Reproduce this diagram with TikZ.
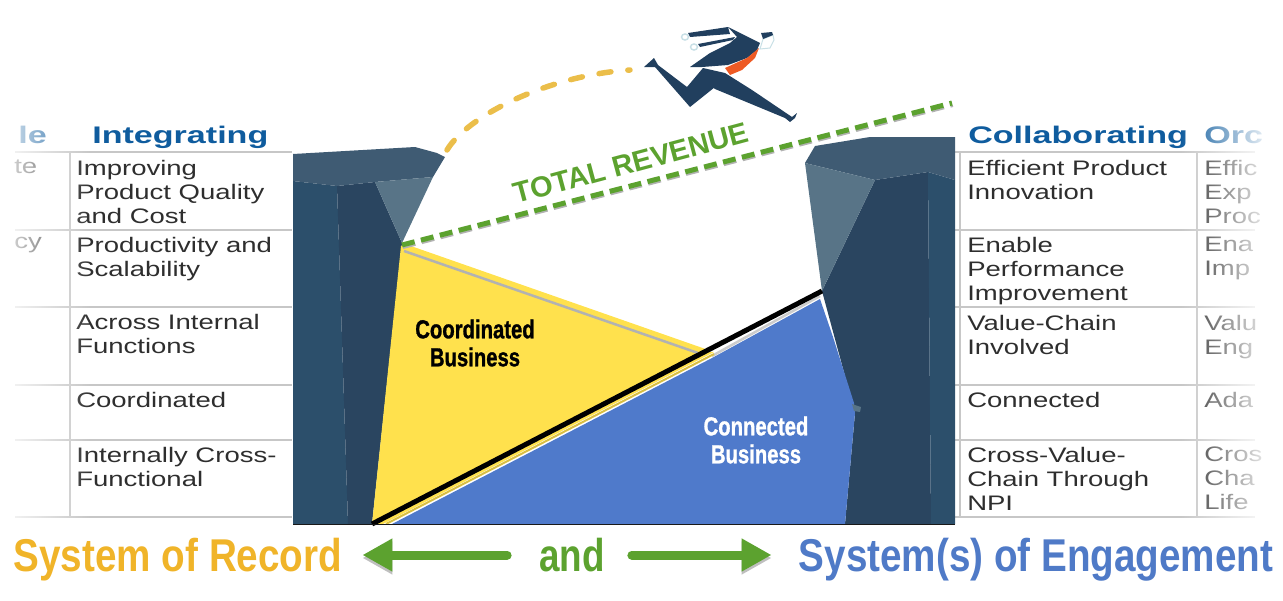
\documentclass[tikz,border=0pt]{standalone}
\usepackage{fontspec}
\setmainfont{Liberation Sans}
\newfontfamily\bizfont[FakeBold=1.2]{Liberation Sans Bold}
\usetikzlibrary{arrows.meta,fadings}
\definecolor{rockslab}{HTML}{3F5B73}
\definecolor{rocklight}{HTML}{587487}
\definecolor{rockfront}{HTML}{2A4560}
\definecolor{rockside}{HTML}{2C4F6B}
\definecolor{busyellow}{HTML}{FFE14D}
\definecolor{busblue}{HTML}{4F7ACB}
\definecolor{revgreen}{HTML}{5CA22F}
\definecolor{jumpgold}{HTML}{EBBE4A}
\definecolor{recgold}{HTML}{F0B429}
\definecolor{enggblue}{HTML}{4F7AC7}
\definecolor{hdrblue}{HTML}{0F5C9E}
\definecolor{suit}{HTML}{213F5E}
\definecolor{tie}{HTML}{EE5A24}
\definecolor{palecuff}{HTML}{C9E0E6}

\begin{document}
\begin{tikzpicture}[x=1pt,y=-1pt,
cell/.style={anchor=north west,inner sep=0pt,align=left,xscale=1.31,text=black!82,font=\fontsize{21}{24}\selectfont},
hdr/.style={anchor=base west,inner sep=0pt,xscale=1.42,text=hdrblue,font=\fontsize{24}{24}\selectfont\bfseries},
rule/.style={black!22,line width=1.5pt},
biz/.style={inner sep=0pt,align=center,xscale=0.78,font=\fontsize{26}{28}\bizfont},
sys/.style={anchor=base,inner sep=0pt,font=\fontsize{46}{46}\selectfont\bfseries},
bigarrow/.style={-{Triangle[length=30pt,width=31pt]},line width=9pt,line cap=round,revgreen,
  preaction={draw=black!25,transform canvas={yshift=-3pt}}}]
\useasboundingbox (0,0) rectangle (1283,600);

% tables
\draw[rule] (15,152) -- (292,152);
\draw[rule] (15,230) -- (292,230);
\draw[rule] (15,307) -- (292,307);
\draw[rule] (15,385) -- (292,385);
\draw[rule] (15,440) -- (292,440);
\draw[rule] (15,517) -- (292,517);
\draw[rule] (70,152) -- (70,517);
\draw[rule] (955,152) -- (1255,152);
\draw[rule] (955,230) -- (1255,230);
\draw[rule] (955,307) -- (1255,307);
\draw[rule] (955,385) -- (1255,385);
\draw[rule] (955,440) -- (1255,440);
\draw[rule] (955,517) -- (1255,517);
\draw[rule] (960,152) -- (960,517);
\draw[rule] (1197,152) -- (1197,517);

\node[hdr] (hRole) at (18,143) {le};
\node[hdr] (hIntegrating) at (92,143) {Integrating};
\node[hdr] (hCollab) at (968,143) {Collaborating};
\node[hdr] (hOrch) at (1204,143) {Orc};

\node[cell] (lA) at (14,160) {te};
\node[cell] (lB) at (14,237) {cy};
\node[cell] (iA) at (76,160) {Improving\\Product Quality\\and Cost};
\node[cell] (iB) at (76,237) {Productivity and\\Scalability};
\node[cell] (iC) at (76,314) {Across Internal\\Functions};
\node[cell] (iD) at (76,392) {Coordinated};
\node[cell] (iE) at (76,447) {Internally Cross-\\Functional};
\node[cell] (cA) at (967,160) {Efficient Product\\Innovation};
\node[cell] (cB) at (967,237) {Enable\\Performance\\Improvement};
\node[cell] (cC) at (967,315) {Value-Chain\\Involved};
\node[cell] (cD) at (967,392) {Connected};
\node[cell] (cE) at (967,447) {Cross-Value-\\Chain Through\\NPI};
\node[cell] (oA) at (1204,160) {Effic\\Exp\\Proc};
\node[cell] (oB) at (1204,237) {Ena\\Imp};
\node[cell] (oC) at (1204,315) {Valu\\Eng};
\node[cell] (oD) at (1204,392) {Ada};
\node[cell] (oE) at (1204,447) {Cros\\Cha\\Life};

\fill[white,path fading=east] (-10,120) rectangle (90,530);
\fill[white,path fading=west] (1180,120) rectangle (1275,530);

% left rock
\fill[rockside] (293,181) -- (337,186) -- (348,524) -- (293,524) -- cycle;
\fill[rockfront] (337,186) -- (375,182) -- (402,243) -- (372,524) -- (348,524) -- cycle;
\fill[rockslab] (293,154) -- (415,147) -- (437,153) -- (445,157) -- (433,177) -- (375,182) -- (337,186) -- (293,181) -- cycle;
\fill[rocklight] (375,182) -- (433,177) -- (402,243) -- cycle;

% right rock
\fill[rockfront] (875,180) -- (928,172) -- (931,524) -- (845,524) -- (855,413) -- (822,291) -- cycle;
\fill[rockside] (928,172) -- (955,180) -- (955,524) -- (931,524) -- cycle;
\fill[rockslab] (805,163) -- (815,146) -- (870,137) -- (955,137) -- (955,180) -- (928,172) -- (875,180) -- cycle;
\fill[rocklight] (805,163) -- (875,180) -- (822,291) -- cycle;

% business wedges
\fill[busyellow] (401,246) -- (372,524) -- (383,524) -- (714,352) -- (700,351) -- cycle;
\fill[busblue] (392,524) -- (712,358) -- (820,299) -- (833,337) -- (854,403) -- (855,413) -- (845,524) -- cycle;
\fill[rocklight] (852,404) -- (861,407) -- (860,412) -- (854,411) -- cycle;
\draw[busyellow,line width=4pt] (402,245) -- (708,352);
\draw[black!30,line width=2.5pt] (404,251) -- (698,353);
\draw[black!20,line width=2.5pt] (712,356) -- (820,296);
\draw[busyellow!85!black,line width=2pt] (386,524) -- (714,354);
\draw[black,line width=5pt] (372,524) -- (822,291);
\draw[black!90,line width=1pt] (293,524) -- (955,524);

\node[biz,text=black] (coord) at (475,343) {Coordinated\\Business};
\node[biz,text=white] (conn) at (756,440) {Connected\\Business};

% total revenue line
\draw[black!30,line width=2pt,dash pattern=on 13pt off 6.5pt] (403,248) -- (953,106);
\draw[revgreen,line width=5pt,dash pattern=on 13pt off 6.5pt] (402,245) -- (952,103);
\node[inner sep=0pt,rotate=15,text=revgreen,font=\fontsize{29}{29}\selectfont\bfseries] (rev) at (631,163) {TOTAL REVENUE};

% jump path
\draw[jumpgold,line width=5.5pt,line cap=round,dash pattern=on 12pt off 17pt] (447,150) .. controls (468,115) and (550,75) .. (630,70);

% runner
\fill[suit] (644,67) -- (654,58) -- (658,65) -- (687,87) -- (703,68) -- (715,87) -- (690,107) -- (655,67) -- cycle;
\fill[suit] (703,68) -- (725,73) -- (752,90) -- (792,117) -- (797,113) -- (795,118) -- (790,122) -- (785,118) -- (715,89) -- (700,77) -- cycle;
\fill[suit] (690,67) -- (710,53) -- (730,43) -- (737,37) -- (728,27) -- (760,43) -- (757,50) -- (747,58) -- (728,65) -- (702,67) -- cycle;
\fill[suit] (688,33) -- (728,27) -- (730,34) -- (690,37) -- cycle;
\fill[suit] (698,44) -- (735,37) -- (733,40) -- (700,47) -- cycle;
\draw[palecuff,line width=1.5pt,fill=white] (685,37) ellipse (3.5pt and 3pt);
\draw[palecuff,line width=1.5pt,fill=white] (694,47) ellipse (3.5pt and 3pt);
\draw[palecuff,line width=1pt,fill=white] (763,39) -- (773,35) -- (774,40) -- (770,48) -- (760,49) -- cycle;
\fill[suit] (761,33) -- (772,32) -- (773,35) -- (763,39) -- cycle;
\fill[tie] (759,48) -- (755,58) -- (742,70) -- (730,75) -- (725,68) -- (747,58) -- cycle;

% bottom row
\node[sys,text=recgold,xscale=0.84] (record) at (178,571) {System of Record};
\node[sys,text=revgreen,xscale=0.8] (andtxt) at (572,571) {and};
\node[sys,text=enggblue,xscale=0.84] (engage) at (1036,571) {System(s) of Engagement};
\draw[bigarrow,shorten >=20pt,shorten <=32pt] (andtxt.west |- 0,555) -- (record.east |- 0,555);
\draw[bigarrow,shorten >=27pt,shorten <=27pt] (andtxt.east |- 0,555) -- (engage.west |- 0,555);
\end{tikzpicture}
\end{document}
